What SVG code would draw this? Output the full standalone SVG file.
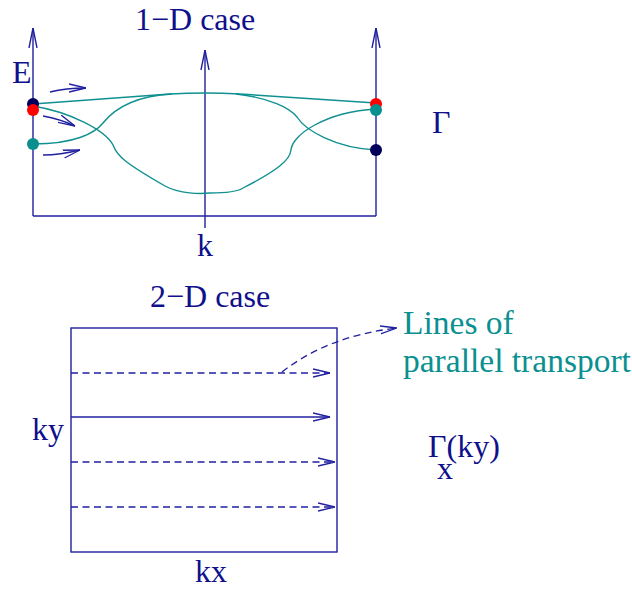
<svg xmlns="http://www.w3.org/2000/svg" width="632" height="589" viewBox="0 0 632 589">
  <style>
    .t { font-family: "Liberation Serif", "Times New Roman", serif; font-size: 32px; fill: #10108c; }
    .tt { font-family: "Liberation Serif", "Times New Roman", serif; font-size: 33.5px; fill: #0a9090; }
    .ax { stroke: #2020a0; stroke-width: 1.4; fill: none; }
    .cv { stroke: #109090; stroke-width: 1.4; fill: none; }
    .da { stroke: #2020a0; stroke-width: 1.3; fill: none; stroke-dasharray: 7 4.5; }
  </style>
  <defs>
    <marker id="axh" viewBox="0 0 20 10" refX="20" refY="5" markerWidth="20" markerHeight="10" markerUnits="userSpaceOnUse" orient="auto">
      <path d="M0,1 L20,5 L0,9" fill="none" stroke="#2020a0" stroke-width="1.4" stroke-dasharray="none"/>
    </marker>
    <marker id="sh" viewBox="0 0 17 10" refX="17" refY="5" markerWidth="17" markerHeight="10" markerUnits="userSpaceOnUse" orient="auto">
      <path d="M0,1 L17,5 L0,9" fill="none" stroke="#2020a0" stroke-width="1.3" stroke-dasharray="none"/>
    </marker>
  </defs>

  <g id="connectors">
    <!-- 1-D axes -->
    <path class="ax" d="M33,216 L33,28" marker-end="url(#axh)"/>
    <path class="ax" d="M376,216 L376,28" marker-end="url(#axh)"/>
    <path class="ax" d="M205,228 L205,50" marker-end="url(#axh)"/>
    <path class="ax" d="M33,216 L376,216"/>
    <!-- bands -->
    <path class="cv" d="M33,104 L170,94 Q205,92 240,94 L376,103"/>
    <path class="cv" d="M33,144 C75,144 95,133 103,123 C115,108 135,96 172,94"/>
    <path class="cv" d="M236,94 C270,98 290,108 297,117 C305,130 335,148 376,150"/>
    <path class="cv" d="M33,106 C70,112 105,130 113,145 C117,156 125,163 165,186 C180,194 200,194 210,193 C225,193 237,192 243,188 C278,170 290,160 291,150 C292,135 325,112 376,109"/>
    <!-- small arrows -->
    <path class="ax" d="M50,92 Q66,88 86,88" marker-end="url(#sh)"/>
    <path class="ax" d="M43,116 Q60,119 75,126" marker-end="url(#sh)"/>
    <path class="ax" d="M43,155 Q60,155 80,150" marker-end="url(#sh)"/>
    <!-- 2-D lines -->
    <path class="da" d="M71,373 L330,373" marker-end="url(#sh)"/>
    <path class="ax" d="M71,417 L330,417" marker-end="url(#sh)"/>
    <path class="da" d="M71,462 L335,462" marker-end="url(#sh)"/>
    <path class="da" d="M71,507 L335,507" marker-end="url(#sh)"/>
    <path class="da" d="M282,372 Q328,336 397,328" marker-end="url(#sh)"/>
  </g>

  <g id="dots">
    <circle cx="33" cy="104" r="6" fill="#00005c"/>
    <circle cx="33" cy="110" r="6" fill="#ff0000"/>
    <circle cx="33" cy="144" r="6" fill="#0a8f8f"/>
    <circle cx="376" cy="104" r="6" fill="#ff0000"/>
    <circle cx="376" cy="110" r="6" fill="#0a8f8f"/>
    <circle cx="376" cy="150" r="6" fill="#00005c"/>
  </g>

  <g id="box2d">
    <rect x="71" y="328" width="266" height="224" fill="none" stroke="#2020a0" stroke-width="1.4"/>
  </g>

  <g id="labels">
    <text class="t" x="135" y="30">1−D case</text>
    <text class="t" x="12" y="83">E</text>
    <text class="t" x="205" y="256" text-anchor="middle">k</text>
    <text class="t" x="432" y="133">Γ</text>
    <text class="t" x="150" y="307">2−D case</text>
    <text class="tt" x="403" y="334">Lines of</text>
    <text class="tt" x="403" y="372">parallel transport</text>
    <text class="t" x="32" y="440">ky</text>
    <text class="t" x="428" y="457">Γ(ky)</text>
    <text class="t" x="437" y="479">x</text>
    <text class="t" x="195" y="582">kx</text>
  </g>
</svg>
